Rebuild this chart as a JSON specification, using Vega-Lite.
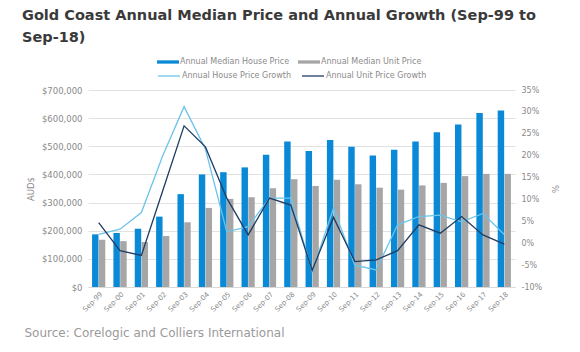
{
  "$schema": "https://vega.github.io/schema/vega-lite/v6.json",
  "width": 427,
  "height": 197,
  "autosize": {"type": "none"},
  "padding": {"left": 88, "top": 90, "right": 65, "bottom": 65},
  "background": "white",
  "config": {
    "font": "DejaVu Sans",
    "view": {"stroke": null},
    "axis": {"labelFont": "DejaVu Sans", "titleFont": "DejaVu Sans"},
    "legend": {"labelFont": "DejaVu Sans"}
  },
  "title": {
    "text": ["Gold Coast Annual Median Price and Annual Growth (Sep-99 to", "Sep-18)"],
    "anchor": "start",
    "frame": "group",
    "dx": -66,
    "dy": 4,
    "fontSize": 14.5,
    "fontWeight": "bold",
    "font": "DejaVu Sans",
    "color": "#3a3a3a",
    "lineHeight": 22,
    "offset": 10
  },
  "datasets": {
    "prices": [
      {"period": "Sep-99", "series": "Annual Median House Price", "price": 187000},
      {"period": "Sep-00", "series": "Annual Median House Price", "price": 192000},
      {"period": "Sep-01", "series": "Annual Median House Price", "price": 207000},
      {"period": "Sep-02", "series": "Annual Median House Price", "price": 250000},
      {"period": "Sep-03", "series": "Annual Median House Price", "price": 330000},
      {"period": "Sep-04", "series": "Annual Median House Price", "price": 400000},
      {"period": "Sep-05", "series": "Annual Median House Price", "price": 408000},
      {"period": "Sep-06", "series": "Annual Median House Price", "price": 425000},
      {"period": "Sep-07", "series": "Annual Median House Price", "price": 470000},
      {"period": "Sep-08", "series": "Annual Median House Price", "price": 517000},
      {"period": "Sep-09", "series": "Annual Median House Price", "price": 483000},
      {"period": "Sep-10", "series": "Annual Median House Price", "price": 522000},
      {"period": "Sep-11", "series": "Annual Median House Price", "price": 498000},
      {"period": "Sep-12", "series": "Annual Median House Price", "price": 467000},
      {"period": "Sep-13", "series": "Annual Median House Price", "price": 488000},
      {"period": "Sep-14", "series": "Annual Median House Price", "price": 517000},
      {"period": "Sep-15", "series": "Annual Median House Price", "price": 550000},
      {"period": "Sep-16", "series": "Annual Median House Price", "price": 577000},
      {"period": "Sep-17", "series": "Annual Median House Price", "price": 618000},
      {"period": "Sep-18", "series": "Annual Median House Price", "price": 627000},
      {"period": "Sep-99", "series": "Annual Median Unit Price", "price": 168000},
      {"period": "Sep-00", "series": "Annual Median Unit Price", "price": 163000},
      {"period": "Sep-01", "series": "Annual Median Unit Price", "price": 160000},
      {"period": "Sep-02", "series": "Annual Median Unit Price", "price": 181000},
      {"period": "Sep-03", "series": "Annual Median Unit Price", "price": 230000},
      {"period": "Sep-04", "series": "Annual Median Unit Price", "price": 281000},
      {"period": "Sep-05", "series": "Annual Median Unit Price", "price": 313000},
      {"period": "Sep-06", "series": "Annual Median Unit Price", "price": 319000},
      {"period": "Sep-07", "series": "Annual Median Unit Price", "price": 351000},
      {"period": "Sep-08", "series": "Annual Median Unit Price", "price": 383000},
      {"period": "Sep-09", "series": "Annual Median Unit Price", "price": 359000},
      {"period": "Sep-10", "series": "Annual Median Unit Price", "price": 381000},
      {"period": "Sep-11", "series": "Annual Median Unit Price", "price": 365000},
      {"period": "Sep-12", "series": "Annual Median Unit Price", "price": 353000},
      {"period": "Sep-13", "series": "Annual Median Unit Price", "price": 346000},
      {"period": "Sep-14", "series": "Annual Median Unit Price", "price": 361000},
      {"period": "Sep-15", "series": "Annual Median Unit Price", "price": 370000},
      {"period": "Sep-16", "series": "Annual Median Unit Price", "price": 394000},
      {"period": "Sep-17", "series": "Annual Median Unit Price", "price": 402000},
      {"period": "Sep-18", "series": "Annual Median Unit Price", "price": 402000}
    ],
    "growth": [
      {"period": "Sep-99", "series": "Annual House Price Growth", "growth": 2.0},
      {"period": "Sep-00", "series": "Annual House Price Growth", "growth": 3.2},
      {"period": "Sep-01", "series": "Annual House Price Growth", "growth": 7.0},
      {"period": "Sep-02", "series": "Annual House Price Growth", "growth": 20.0},
      {"period": "Sep-03", "series": "Annual House Price Growth", "growth": 31.2},
      {"period": "Sep-04", "series": "Annual House Price Growth", "growth": 21.5},
      {"period": "Sep-05", "series": "Annual House Price Growth", "growth": 2.6},
      {"period": "Sep-06", "series": "Annual House Price Growth", "growth": 3.8},
      {"period": "Sep-07", "series": "Annual House Price Growth", "growth": 10.3},
      {"period": "Sep-08", "series": "Annual House Price Growth", "growth": 10.3},
      {"period": "Sep-09", "series": "Annual House Price Growth", "growth": -6.5},
      {"period": "Sep-10", "series": "Annual House Price Growth", "growth": 8.0},
      {"period": "Sep-11", "series": "Annual House Price Growth", "growth": -5.0},
      {"period": "Sep-12", "series": "Annual House Price Growth", "growth": -6.1},
      {"period": "Sep-13", "series": "Annual House Price Growth", "growth": 4.2},
      {"period": "Sep-14", "series": "Annual House Price Growth", "growth": 6.1},
      {"period": "Sep-15", "series": "Annual House Price Growth", "growth": 6.4},
      {"period": "Sep-16", "series": "Annual House Price Growth", "growth": 4.9},
      {"period": "Sep-17", "series": "Annual House Price Growth", "growth": 6.8},
      {"period": "Sep-18", "series": "Annual House Price Growth", "growth": 2.0},
      {"period": "Sep-99", "series": "Annual Unit Price Growth", "growth": 4.7},
      {"period": "Sep-00", "series": "Annual Unit Price Growth", "growth": -1.7},
      {"period": "Sep-01", "series": "Annual Unit Price Growth", "growth": -2.8},
      {"period": "Sep-02", "series": "Annual Unit Price Growth", "growth": 12.0},
      {"period": "Sep-03", "series": "Annual Unit Price Growth", "growth": 26.8},
      {"period": "Sep-04", "series": "Annual Unit Price Growth", "growth": 22.0},
      {"period": "Sep-05", "series": "Annual Unit Price Growth", "growth": 10.3},
      {"period": "Sep-06", "series": "Annual Unit Price Growth", "growth": 1.9},
      {"period": "Sep-07", "series": "Annual Unit Price Growth", "growth": 10.3},
      {"period": "Sep-08", "series": "Annual Unit Price Growth", "growth": 8.7},
      {"period": "Sep-09", "series": "Annual Unit Price Growth", "growth": -6.2},
      {"period": "Sep-10", "series": "Annual Unit Price Growth", "growth": 5.9},
      {"period": "Sep-11", "series": "Annual Unit Price Growth", "growth": -4.2},
      {"period": "Sep-12", "series": "Annual Unit Price Growth", "growth": -3.8},
      {"period": "Sep-13", "series": "Annual Unit Price Growth", "growth": -1.7},
      {"period": "Sep-14", "series": "Annual Unit Price Growth", "growth": 4.2},
      {"period": "Sep-15", "series": "Annual Unit Price Growth", "growth": 2.3},
      {"period": "Sep-16", "series": "Annual Unit Price Growth", "growth": 6.1},
      {"period": "Sep-17", "series": "Annual Unit Price Growth", "growth": 1.9},
      {"period": "Sep-18", "series": "Annual Unit Price Growth", "growth": -0.2}
    ]
  },
  "layer": [
    {
      "data": {"name": "prices"},
      "mark": {"type": "bar"},
      "encoding": {
        "x": {
          "field": "period",
          "type": "nominal",
          "sort": null,
          "scale": {"paddingInner": 0.38, "paddingOuter": 0.19},
          "axis": {
            "labelAngle": -45,
            "labelFontSize": 7,
            "labelColor": "#8a8a8a",
            "labelPadding": 3,
            "ticks": false,
            "domainColor": "#d9d9d9",
            "title": "Source: Corelogic and Colliers International",
            "titleFontSize": 12,
            "titleFontWeight": "normal",
            "titleColor": "#9a9a9a",
            "titleAlign": "left",
            "titleAnchor": "start",
            "titleX": -64,
            "titleY": 40
          }
        },
        "xOffset": {
          "field": "series",
          "type": "nominal",
          "sort": ["Annual Median House Price", "Annual Median Unit Price"],
          "scale": {"paddingInner": 0.05}
        },
        "y": {
          "field": "price",
          "type": "quantitative",
          "scale": {"domain": [0, 700000], "nice": false},
          "axis": {
            "values": [0, 100000, 200000, 300000, 400000, 500000, 600000, 700000],
            "format": "$,.0f",
            "labelFontSize": 8.5,
            "labelColor": "#8a8a8a",
            "labelPadding": 6,
            "ticks": false,
            "domain": false,
            "grid": true,
            "gridColor": "#e2e2e2",
            "title": "AUD$",
            "titleFontSize": 8.5,
            "titleFontWeight": "normal",
            "titleColor": "#8a8a8a",
            "titlePadding": 6
          }
        },
        "color": {
          "field": "series",
          "type": "nominal",
          "scale": {
            "domain": ["Annual Median House Price", "Annual Median Unit Price"],
            "range": ["#0a8ad6", "#a6a6a6"]
          },
          "legend": {
            "title": null,
            "orient": "none",
            "direction": "horizontal",
            "legendX": 69,
            "legendY": -39,
            "symbolType": "M-1,-0.15H1V0.15H-1Z",
            "symbolSize": 484,
            "symbolStrokeWidth": 0,
            "labelFontSize": 8,
            "labelColor": "#8a8a8a",
            "labelOffset": 1,
            "columnPadding": 8
          }
        }
      }
    },
    {
      "data": {"name": "growth"},
      "mark": {"type": "line", "strokeWidth": 1.3},
      "encoding": {
        "x": {"field": "period", "type": "nominal", "sort": null},
        "y": {
          "field": "growth",
          "type": "quantitative",
          "scale": {"domain": [-10, 35], "nice": false},
          "axis": {
            "orient": "right",
            "values": [-10, -5, 0, 5, 10, 15, 20, 25, 30, 35],
            "labelExpr": "datum.value + '%'",
            "labelFontSize": 8,
            "labelColor": "#8a8a8a",
            "labelPadding": 6,
            "ticks": false,
            "domain": false,
            "grid": false,
            "title": "%",
            "titleFontSize": 8.5,
            "titleFontWeight": "normal",
            "titleColor": "#8a8a8a",
            "titlePadding": 8
          }
        },
        "color": {
          "field": "series",
          "type": "nominal",
          "scale": {
            "domain": ["Annual House Price Growth", "Annual Unit Price Growth"],
            "range": ["#6cc4ea", "#1f3c63"]
          },
          "legend": {
            "title": null,
            "orient": "none",
            "direction": "horizontal",
            "legendX": 69,
            "legendY": -26,
            "symbolType": "stroke",
            "symbolSize": 484,
            "symbolStrokeWidth": 1.3,
            "labelFontSize": 8,
            "labelColor": "#8a8a8a",
            "labelOffset": 1,
            "columnPadding": 8
          }
        }
      }
    }
  ],
  "resolve": {"scale": {"y": "independent", "color": "independent"}}
}
